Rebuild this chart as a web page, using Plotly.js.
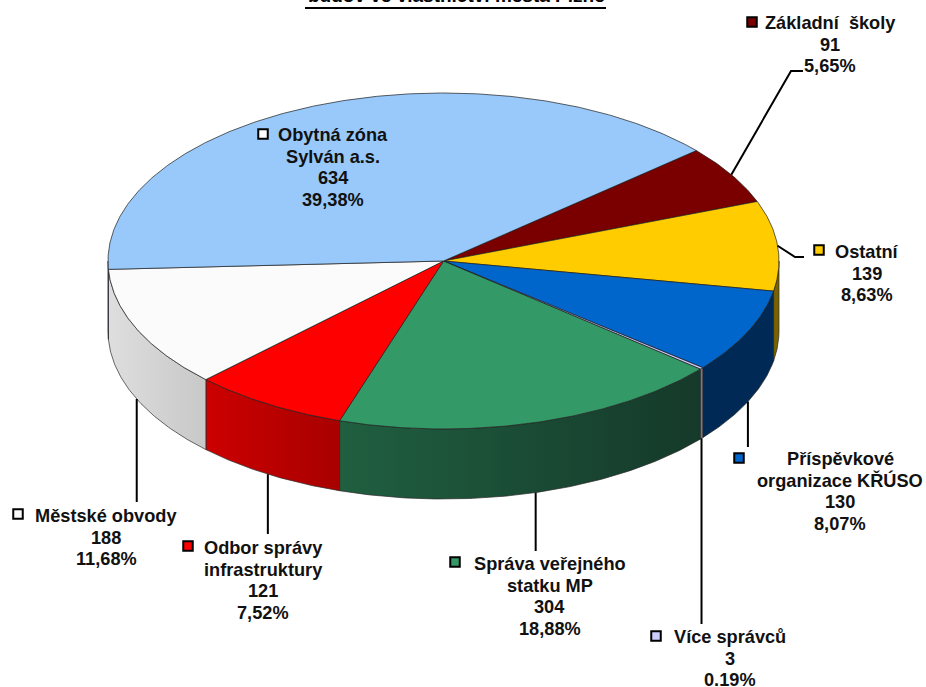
<!DOCTYPE html>
<html><head><meta charset="utf-8">
<style>html,body{margin:0;padding:0;background:#fff;overflow:hidden}#c{width:926px;height:687px}</style>
<script src="https://cdn.plot.ly/plotly-3.0.1.min.js"></script></head>
<body><div id="c"></div>
<script>
// ---- data (clockwise from the top right) ----
const categories = [["Základní  školy"],["Ostatní"],["Příspěvkové","organizace KŘÚSO"],["Více správců"],["Správa veřejného","statku MP"],["Odbor správy","infrastruktury"],["Městské obvody"],["Obytná zóna","Sylván a.s."]];
const values = [91,139,130,3,304,121,188,634];
const percentLabels = ["5,65%","8,63%","8,07%","0.19%","18,88%","7,52%","11,68%","39,38%"];
const titleText = "budov ve vlastnictví města Plzně";

// ---- styles ----
const topColors = ["#7A0000","#FFCC00","#0066CC","#CCCCFF","#339966","#FF0000","#FBFBFB","#98C9FA"];
const wallLeft  = ["#3d0000","#7a6200","#002a55","#77778a","#205f40","#cc0000","#dedede","#6e8fb0"];
const wallRight = ["#3d0000","#7a6200","#002a55","#77778a","#15392a","#a80000","#c8c8c8","#6e8fb0"];
const fontFamily = "Liberation Sans, Arial, sans-serif";

// ---- layout of the drawing ----
const cx = 443.5, cy = 261, rx = 335.5, ry = 168, depth = 70, startDeg = -41.1;
const labelX = [830,867,840,730,549.5,263,106,333];
const firstLineY = [23,252,459,637,564,548,516,135];
const lineStep = 21.7;
const keyX = [752,819,739,656,455,188,18,263];
const keyY = [22,250,458,636,562,546,514,134];
// leader ends: elbowed for the two upper labels, plain drops for the lower ones
const leaderElbowX = [[791,803],[795,804],null,null,null,null,null,null];
const leaderElbowY = [[71,71],[257,257],null,null,null,null,null,null];
const leaderDropY = [null,null,447,624,551,534,502,null];

const total = values.reduce((a,b)=>a+b,0);
const rad = d => d*Math.PI/180;
const px = d => cx + rx*Math.cos(rad(d));
const py = (d,off=0) => cy + ry*Math.sin(rad(d)) + off;
function arc(a,b,off){ const xs=[],ys=[]; const n=Math.max(2,Math.ceil(Math.abs(b-a)*2));
  for(let i=0;i<=n;i++){const d=a+(b-a)*i/n; xs.push(px(d)); ys.push(py(d,off));} return [xs,ys]; }

const traces = [];
let angle = startDeg; const spans = [];
values.forEach(v=>{ const sweep=v/total*360; spans.push([angle,angle+sweep]); angle+=sweep; });

// walls
spans.forEach((s,i)=>{
  const a=Math.max(s[0],0), b=Math.min(s[1],180);
  if(b<=a) return;
  const [x1,y1]=arc(a,b,0), [x2,y2]=arc(b,a,depth);
  traces.push({type:"scatter",mode:"lines",x:x1.concat(x2,[x1[0]]),y:y1.concat(y2,[y1[0]]),fill:"toself",
    fillcolor:wallLeft[i],
    fillgradient:{type:"horizontal",colorscale:[[0,wallLeft[i]],[1,wallRight[i]]]},
    line:{color:"#2a2a2a",width:0.7},hoverinfo:"skip"});
});
// top surface
spans.forEach((s,i)=>{
  const [x1,y1]=arc(s[0],s[1],0);
  traces.push({type:"scatter",mode:"lines",x:[cx].concat(x1,[cx]),y:[cy].concat(y1,[cy]),fill:"toself",
    fillcolor:topColors[i],line:{color:"#1c1c1c",width:0.7},hoverinfo:"skip",name:categories[i].join(" ")});
});
// leaders (start on the rim at the mid angle of the slice)
spans.forEach((s,i)=>{
  const m=(s[0]+s[1])/2, off = m>0 ? depth : 0;
  const sx=px(m), sy=py(m,off);
  if(leaderElbowX[i]) traces.push({type:"scatter",mode:"lines",x:[sx].concat(leaderElbowX[i]),y:[sy].concat(leaderElbowY[i]),line:{color:"#000",width:2},hoverinfo:"skip"});
  else if(leaderDropY[i]) traces.push({type:"scatter",mode:"lines",x:[sx,sx],y:[sy,leaderDropY[i]],line:{color:"#000",width:2},hoverinfo:"skip"});
});
// legend keys
traces.push({type:"scatter",mode:"markers",x:keyX,y:keyY,
  marker:{symbol:"square",size:9.5,color:topColors.map((c,i)=>i===7?"#FFFFFF":c),line:{color:"#000",width:2}},hoverinfo:"skip"});

const annotations = [];
categories.forEach((c,i)=>{
  c.concat([String(values[i]),percentLabels[i]]).forEach((line,k)=>{
    annotations.push({x:labelX[i],y:firstLineY[i]+k*lineStep,xref:"x",yref:"y",xanchor:"center",yanchor:"middle",showarrow:false,
      text:"<b>"+line+"</b>",font:{family:fontFamily,size:18.2,color:"#111"}});
  });
});
annotations.push({x:456,y:8,xref:"x",yref:"y",xanchor:"center",yanchor:"bottom",showarrow:false,
  text:"<b>"+titleText+"</b>",font:{family:fontFamily,size:19,color:"#000"}});

const shapes=[{type:"line",xref:"x",yref:"y",x0:305,x1:606,y0:8,y1:8,line:{color:"#000",width:2}}];

Plotly.newPlot("c",traces,{
  width:926,height:687,margin:{l:0,r:0,t:0,b:0},showlegend:false,
  paper_bgcolor:"#fff",plot_bgcolor:"#fff",
  xaxis:{range:[0,926],visible:false,fixedrange:true},
  yaxis:{range:[687,0],visible:false,fixedrange:true},
  annotations,shapes
},{displayModeBar:false,staticPlot:true});
</script></body></html>
